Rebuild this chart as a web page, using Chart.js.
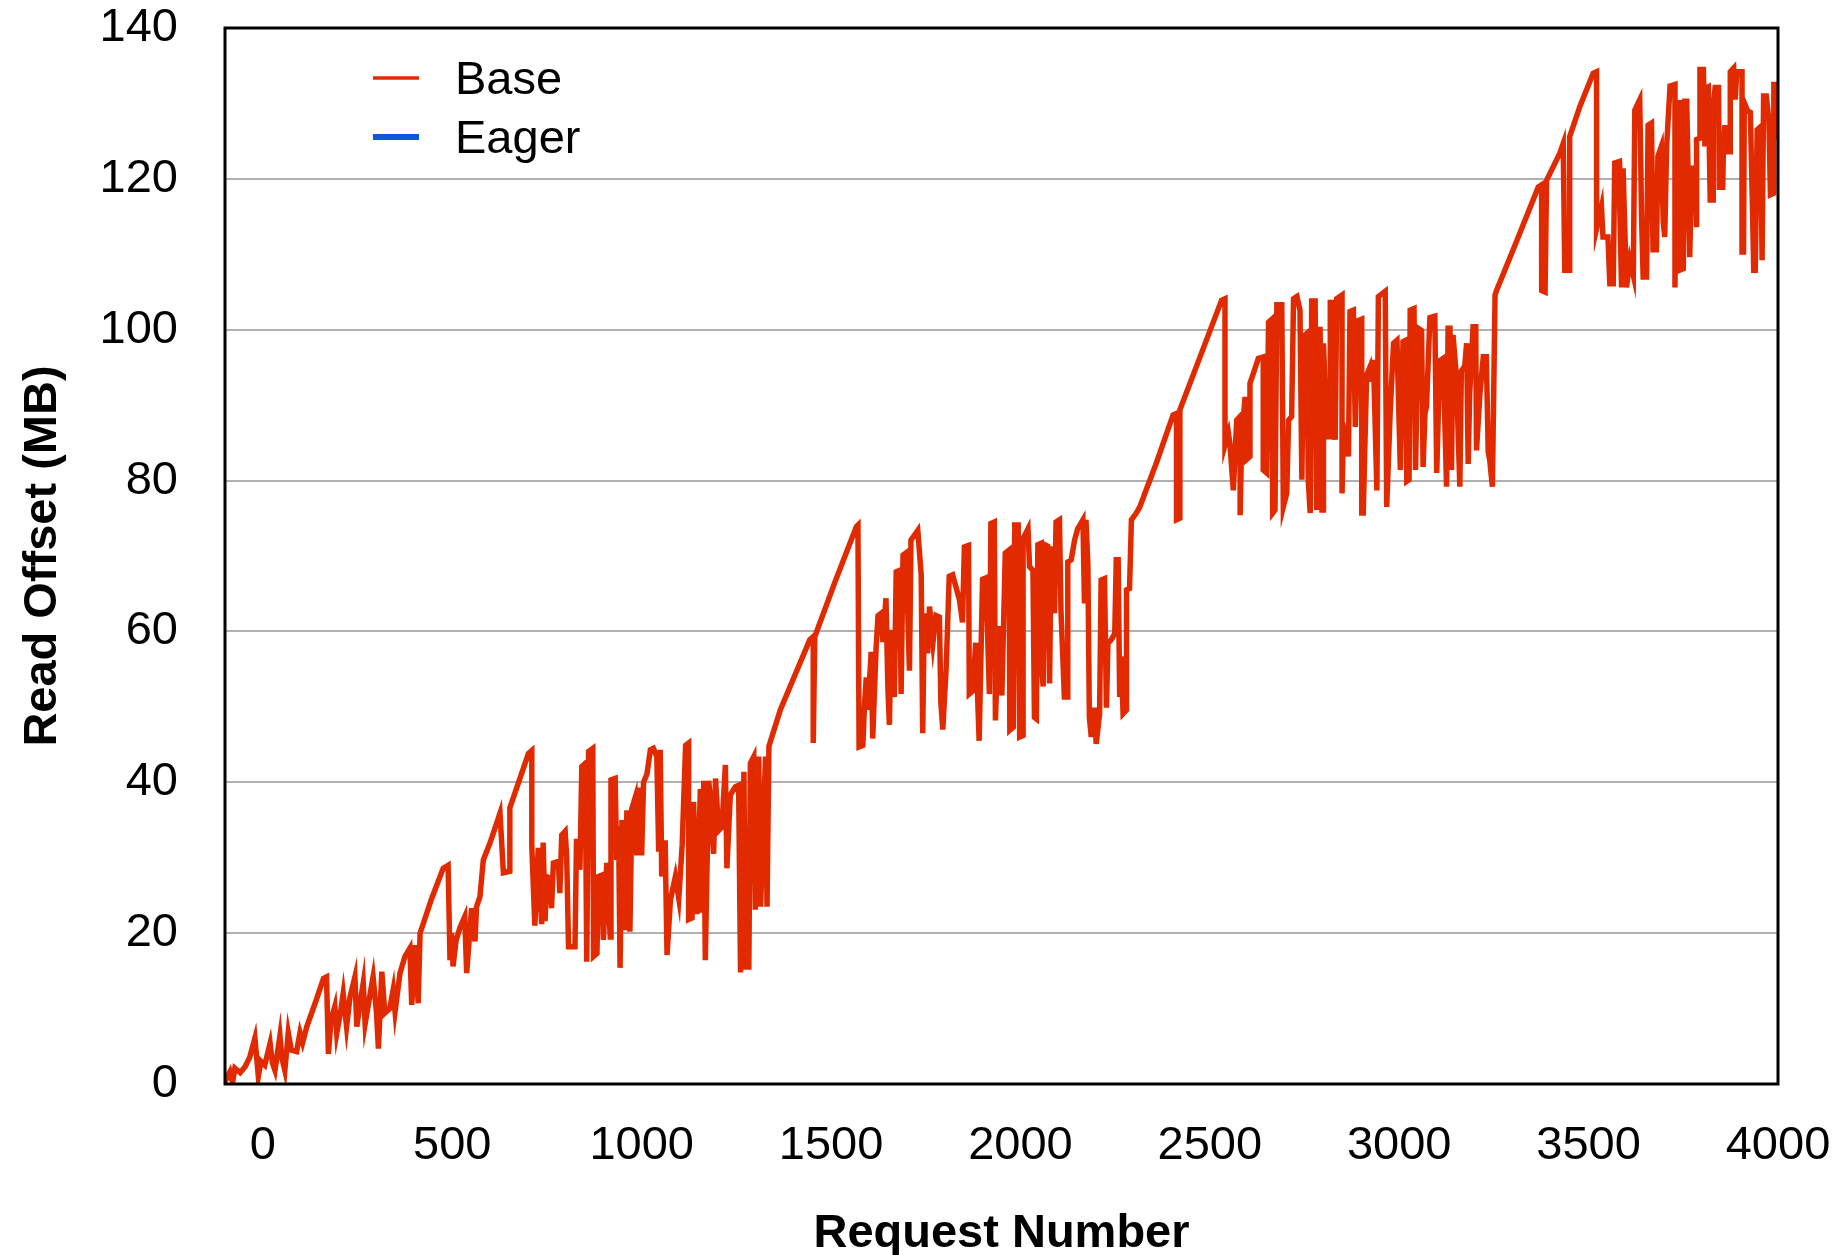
<!DOCTYPE html>
<html>
<head>
<meta charset="utf-8">
<script src="https://cdn.jsdelivr.net/npm/chart.js@4/dist/chart.umd.min.js"></script>
<style>
  html, body { margin: 0; padding: 0; background: #fff; }
  canvas { display: block; }
</style>
</head>
<body>
<canvas id="c" width="1839" height="1255"></canvas>
<script>
// ---------- DATA ----------
const seriesLabels = ["Base", "Eager"];
const xTickValues = [0, 500, 1000, 1500, 2000, 2500, 3000, 3500, 4000];
const yTickValues = [0, 20, 40, 60, 80, 100, 120, 140];

// Base: request number / read offset (MB) pairs
const baseRequest = [
  -100,-87,-80,-74,-60,-47,-35,-21,-12,-5,5,19,25,32,45,50,58,67,75,89,98,105,116,140,160,168,173,180,190,195,205,212,221,230,243,248,256,265,270,280,291,300,305,314,322,335,344,349,362,375,388,393,402,410,415,445,476,489,494,498,502,510,520,533,538,551,560,564,573,582,600,626,635,652,652,701,710,
  710,718,727,736,740,745,749,758,762,767,780,784,789,798,802,807,824,828,837,842,851,855,860,871,873,882,886,895,899,908,917,919,930,934,939,943,948,956,961,969,974,983,987,996,1000,1005,1014,1023,1031,1040,1045,1049,1053,1062,1067,1076,1089,1098,1107,1116,1124,1124,
  1133,1137,1146,1155,1159,1164,1168,1177,1181,1190,1195,1203,1212,1221,1225,1234,1247,1256,1261,1270,1274,1283,1287,1296,1300,1309,1314,1327,1331,1336,1366,1444,1453,1453,1457,1510,1567,1571,1574,1584,1588,1593,1597,1606,1610,1619,1624,1632,1637,1645,1650,1654,1659,1667,1672,1681,1685,1690,1698,1707,1711,1729,1738,1742,1746,1755,1760,1769,1777,1786,1790,1795,1804,1812,1821,1834,1839,1847,1852,1863,1865,1874,1882,1891,1900,1909,1918,1922,1931,1934,1942,1951,1960,1970,1972,1981,1985,1994,1998,2007,2007,2020,2024,2033,2037,2042,2046,2055,2055,2060,2064,2072,2077,2081,2090,2094,2103,2107,2116,2125,2125,2134,2143,2151,2165,2169,2173,2178,2182,2187,2195,2200,2209,2213,2222,2227,2231,2240,2249,2253,2258,2262,2266,2271,2280,2280,2288,2293,2306,2315,2360,2403,2412,2412,2421,2421,2475,2531,2540,2540,2549,2553,2562,2571,2580,2580,2584,2593,2597,2606,2606,2615,2628,2641,2641,2650,2655,2664,2666,2672,2677,2690,2694,2703,2708,2716,2721,2730,2738,2743,2747,2756,2760,2765,2769,2778,2782,2791,2796,2800,2800,2809,2818,2818,2826,2831,2835,2849,2849,2853,2862,2866,2870,2879,2884,2892,2901,2901,2905,2914,2923,2927,2932,2941,2945,2963,2967,2976,2985,2994,3003,3010,3018,3020,3026,3029,3039,3043,3050,3059,3063,3068,3072,3081,3094,3099,3107,3116,3125,3129,3134,3138,3142,3151,3160,3164,3173,3178,3182,3186,3195,3202,3204,3213,3222,3230,3235,3239,3246,3253,3257,3312,3367,3376,3376,3385,3389,3424,3433,3437,3450,3450,3477,3512,3521,3521,3534,3538,3551,3556,3565,3569,3581,3582,3587,3591,3600,3609,3618,3622,3635,3640,3644,3653,3657,3666,3670,3679,3683,3692,3697,3701,3706,3715,3728,3728,3732,3741,3741,3750,3754,3759,3763,3767,3772,3781,3785,3785,3794,3794,3803,3807,3812,3816,3821,3829,3829,3834,3843,3845,3854,3856,3860,3865,3874,3874,3883,3887,3891,3905,3905,3909,3911,3920,3927,3931,3936,3940,3945,3954,3958,3962,3969,3976,3980,3989,3989,3994,3998
];
const baseOffsetMB = [
  0.3,1.6,0.2,2.1,1.5,2.3,3.5,6.1,1.0,3.0,2.5,5.4,2.8,1.8,6.4,3.5,1.8,6.8,4.5,4.3,6.8,5.5,7.6,11.0,14.0,14.2,4.0,8.5,10.3,6.7,9.5,12.0,7.6,11.5,14.2,7.6,10.5,13.4,8.0,11.0,14.2,9.4,4.7,14.9,9.4,10.0,12.5,9.6,14.7,16.9,18.0,10.5,18.4,10.7,20.0,24.5,28.6,29.0,16.4,20.0,15.6,19.0,20.7,22.2,14.7,23.3,18.9,23.5,24.8,29.7,32.0,35.9,28.0,28.2,36.6,43.8,44.2,
  31.5,21.0,31.3,21.2,32.0,21.6,27.5,27.3,23.3,29.3,29.5,25.3,33.0,33.5,30.2,18.2,18.2,32.5,28.4,42.1,42.5,16.2,44.1,44.5,16.9,17.3,27.5,27.7,19.1,29.3,19.5,40.3,40.5,29.7,34.2,15.4,35.0,20.4,36.3,20.2,36.5,38.0,30.3,39.3,30.3,40.0,41.1,44.3,44.5,43.4,30.8,44.3,27.5,32.3,17.1,24.4,27.5,24.6,31.7,44.9,45.2,21.8,
  22.0,37.4,22.5,39.1,22.7,40.2,16.4,40.2,38.0,30.5,40.5,33.6,34.1,42.3,28.6,38.3,39.4,39.6,14.8,41.4,15.5,15.5,42.5,43.4,23.1,43.4,23.5,43.4,23.5,44.8,49.6,58.9,59.3,45.2,59.3,66.5,73.9,74.1,44.7,44.9,50.0,53.9,49.6,57.3,45.8,57.9,62.1,62.4,58.6,64.4,52.6,47.6,60.2,51.3,67.9,68.1,51.7,70.1,70.4,54.8,72.1,73.4,67.5,46.5,62.4,57.1,63.3,58.5,62.1,61.9,50.5,47.0,55.2,67.3,67.5,65.1,64.2,61.2,71.2,71.4,51.7,52.1,58.5,45.5,66.9,67.1,51.7,74.3,74.5,48.2,60.7,51.5,70.4,70.8,46.9,47.3,74.1,74.1,46.0,46.2,72.3,73.6,68.6,68.1,48.6,48.4,71.5,71.7,55.8,52.7,71.5,71.3,53.1,71.3,62.4,74.5,74.8,62.8,51.3,51.3,69.2,69.5,72.1,73.6,74.8,63.7,74.8,69.0,48.6,46.0,49.9,45.1,49.1,66.8,67.0,49.9,58.4,58.9,59.7,69.5,69.5,51.3,56.7,49.1,49.6,65.5,65.7,74.8,75.7,76.5,82.5,88.7,88.9,74.8,75.0,89.4,96.5,103.9,104.1,84.7,86.3,84.9,78.7,88.0,88.5,75.4,85.4,91.1,82.8,83.2,92.9,94.2,96.2,96.4,81.4,81.0,101.0,101.4,75.7,76.1,103.3,103.3,76.5,78.3,88.0,88.5,104.1,104.4,102.6,80.1,99.1,99.5,79.9,75.7,103.8,103.8,76.1,100.4,76.1,76.1,98.2,85.8,85.8,103.6,103.6,85.4,104.1,104.6,78.3,87.1,85.4,83.2,102.4,102.6,87.1,101.2,101.4,75.7,75.7,94.0,95.1,93.1,96.0,78.7,104.4,105.1,76.5,88.9,98.2,98.6,81.4,98.4,98.6,79.9,80.1,102.6,102.8,81.4,100.2,99.9,81.8,88.9,89.8,101.6,101.8,81.0,95.9,96.2,79.2,100.2,100.2,81.4,99.3,93.8,79.2,94.5,95.2,98.2,82.2,91.5,100.4,100.4,84.0,91.5,96.4,96.4,83.8,82.7,79.2,104.6,105.2,112.0,118.9,119.2,105.2,105.0,119.8,123.4,124.7,107.9,107.9,125.6,129.6,134.0,134.2,113.4,116.3,112.3,112.3,106.1,106.1,122.1,122.3,116.8,105.6,121.4,105.6,109.2,107.2,129.1,130.5,114.5,107.0,107.0,127.1,127.4,110.6,110.6,123.0,124.3,114.3,112.3,124.3,132.3,132.5,105.6,130.1,130.1,107.9,108.1,130.3,130.3,119.8,109.6,121.4,121.4,113.6,125.2,125.4,134.5,134.5,124.3,132.1,132.2,117.2,117.2,129.6,132.1,132.1,118.9,118.9,124.3,127.1,123.6,123.6,134.2,134.7,130.5,134.2,134.2,110.3,110.3,130.1,129.0,128.8,119.8,107.9,107.9,126.5,126.9,109.2,131.0,131.0,127.8,117.9,118.1,132.5,132.5,125.2
];

// Eager: no visible trace in the reference (legend entry only)
const eagerRequest = [];
const eagerOffsetMB = [];

// ---------- CHART ----------
const FONT = "'Liberation Sans', Arial, Helvetica, sans-serif";
const RED = "#e22a00";
const BLUE = "#0a5ad8";

const toPoints = (xs, ys) => xs.map((x, i) => ({ x: x, y: ys[i] }));

const frameAndLegend = {
  id: "frameAndLegend",
  afterDraw(chart) {
    const { ctx, chartArea: a } = chart;
    ctx.save();
    // plot frame
    ctx.strokeStyle = "#000";
    ctx.lineWidth = 3;
    ctx.strokeRect(a.left, a.top, a.right - a.left, a.bottom - a.top);
    // legend inside plot
    const items = [
      { ds: chart.data.datasets[0], y: 78, ty: 81, w: 3.5 },
      { ds: chart.data.datasets[1], y: 137, ty: 140, w: 6 }
    ];
    ctx.font = "47px " + FONT;
    ctx.textBaseline = "middle";
    ctx.textAlign = "left";
    items.forEach(it => {
      ctx.strokeStyle = it.ds.borderColor;
      ctx.lineWidth = it.w;
      ctx.lineCap = "butt";
      ctx.beginPath();
      ctx.moveTo(373, it.y);
      ctx.lineTo(419, it.y);
      ctx.stroke();
      ctx.fillStyle = "#000";
      ctx.fillText(it.ds.label, 455, it.ty);
    });
    ctx.restore();
  }
};

const zeroPadding = (s) => {
  s.paddingTop = 0; s.paddingBottom = 0; s.paddingLeft = 0; s.paddingRight = 0;
};

new Chart(document.getElementById("c"), {
  type: "line",
  data: {
    datasets: [
      {
        label: seriesLabels[0],
        data: toPoints(baseRequest, baseOffsetMB),
        borderColor: RED,
        backgroundColor: RED,
        borderWidth: 5.5,
        pointRadius: 0,
        tension: 0,
        fill: false,
        order: 1
      },
      {
        label: seriesLabels[1],
        data: toPoints(eagerRequest, eagerOffsetMB),
        borderColor: BLUE,
        backgroundColor: BLUE,
        borderWidth: 5.5,
        pointRadius: 0,
        tension: 0,
        fill: false,
        order: 2
      }
    ]
  },
  options: {
    responsive: false,
    animation: false,
    devicePixelRatio: 1,
    layout: { padding: { top: 28, right: 61, left: 0, bottom: 0 } },
    plugins: {
      legend: { display: false },
      tooltip: { enabled: false }
    },
    scales: {
      x: {
        type: "linear",
        min: -100,
        max: 4000,
        afterBuildTicks: (s) => { s.ticks = xTickValues.map(v => ({ value: v })); },
        afterFit: (s) => { s.height = 171; zeroPadding(s); },
        grid: { display: false, drawTicks: false },
        border: { display: false },
        ticks: {
          autoSkip: false,
          maxRotation: 0,
          padding: 34,
          color: "#000",
          font: { family: FONT, size: 47 },
          callback: (v) => String(v)
        },
        title: {
          display: true,
          text: "Request Number",
          color: "#000",
          font: { family: FONT, size: 47, weight: "bold" },
          padding: { top: 0, bottom: -7 }
        }
      },
      y: {
        type: "linear",
        min: 0,
        max: 140,
        afterBuildTicks: (s) => { s.ticks = yTickValues.map(v => ({ value: v })); },
        afterFit: (s) => { s.width = 225; zeroPadding(s); },
        grid: { color: "#b0b0b0", lineWidth: 2, drawTicks: false },
        border: { display: false },
        ticks: {
          autoSkip: false,
          padding: 47,
          color: "#000",
          font: { family: FONT, size: 47 },
          callback: (v) => String(v)
        },
        title: {
          display: true,
          text: "Read Offset (MB)",
          color: "#000",
          font: { family: FONT, size: 47, weight: "bold" },
          padding: { top: 15, bottom: 0 }
        }
      }
    }
  },
  plugins: [frameAndLegend]
});
</script>
</body>
</html>
